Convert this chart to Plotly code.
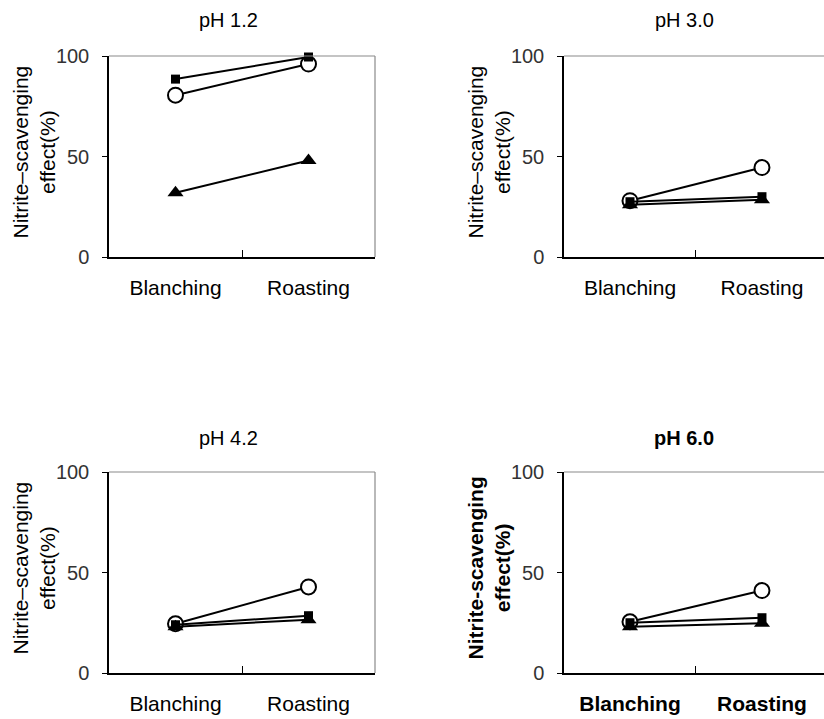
import plotly.graph_objects as go

categories = ["Blanching", "Roasting"]
panel_titles = ["pH 1.2", "pH 3.0", "pH 4.2", "pH 6.0"]
y_ticks = [0, 50, 100]

# series values per panel (pH 1.2, 3.0, 4.2, 6.0)
circle_vals = [[80.5, 96.0], [28.0, 44.5], [24.5, 42.8], [25.5, 41.0]]
square_vals = [[88.5, 99.5], [27.5, 30.0], [24.0, 28.5], [25.0, 27.5]]
triangle_vals = [[32.0, 48.0], [26.0, 28.5], [23.0, 26.5], [23.0, 24.8]]

W, H = 824, 719
FONT = "Liberation Sans, Arial, sans-serif"

# plot-area pixel boxes: left, right, top, bottom
boxes = [
    (109, 375, 56, 257),
    (564, 824, 56, 257),
    (109, 375, 472, 673),
    (564, 824, 472, 673),
]
xranges = [[-0.5, 1.5], [-0.5, 1.47], [-0.5, 1.5], [-0.5, 1.47]]
bold = [False, False, False, True]
ytitles = ["Nitrite\u2013scavenging<br>effect(%)", "Nitrite\u2013scavenging<br>effect(%)",
           "Nitrite\u2013scavenging<br>effect(%)", "Nitrite-scavenging<br>effect(%)"]

fig = go.Figure()
layout = dict(
    width=W, height=H, margin=dict(l=0, r=0, t=0, b=0, autoexpand=False),
    paper_bgcolor="white", plot_bgcolor="white", showlegend=False,
    font=dict(family=FONT, color="black"),
)
annotations = []
shapes = []

for i in range(4):
    sfx = "" if i == 0 else str(i + 1)
    xa, ya = "x" + sfx, "y" + sfx
    l, r, t, b = boxes[i]
    wt = "bold" if bold[i] else "normal"
    layout["xaxis" + sfx] = dict(
        domain=[l / W, r / W], range=xranges[i], anchor=ya, automargin=False,
        tickvals=[0, 1], ticktext=categories, ticks="", showgrid=False, zeroline=False,
        showline=True, linecolor="black", linewidth=1.5,
        tickfont=dict(size=21, color="black", family=FONT, weight=wt),
        ticklabelstandoff=11,
        minor=dict(tickmode="array", tickvals=[0.5], ticks="inside", ticklen=7,
                   tickcolor="black", tickwidth=1, showgrid=False),
    )
    layout["yaxis" + sfx] = dict(
        domain=[1 - b / H, 1 - t / H], range=[0, 100], anchor=xa, automargin=False,
        tickvals=y_ticks, ticks="outside", ticklen=5, tickcolor="black", tickwidth=1,
        showgrid=False, zeroline=False, showline=True, linecolor="black", linewidth=1.5,
        tickfont=dict(size=20, color="#333333", family=FONT),
        ticklabelstandoff=9,
    )
    # y-axis title as rotated annotation
    annotations.append(dict(
        text=ytitles[i], xref="paper", yref=ya + " domain",
        x=(l - 75) / W, y=0.52, textangle=-90,
        showarrow=False, xanchor="center", yanchor="middle",
        font=dict(size=21, color="black", family=FONT, weight=wt),
    ))
    # grey top border (and right border where visible)
    shapes.append(dict(type="line", xref=xa + " domain", yref=ya + " domain",
                       x0=0, x1=1, y0=1, y1=1, line=dict(color="#8a8a8a", width=1.2)))
    if r < W:
        shapes.append(dict(type="line", xref=xa + " domain", yref=ya + " domain",
                           x0=1, x1=1, y0=0, y1=1, line=dict(color="#8a8a8a", width=1.2)))
    annotations.append(dict(
        text=panel_titles[i], xref="paper", yref="paper",
        x=(228 if i in (0, 2) else 684) / W,
        y=1 - (20 if i < 2 else 438) / H,
        showarrow=False, xanchor="center", yanchor="middle",
        font=dict(size=20, color="black", family=FONT, weight=wt),
    ))

    xs = [0, 1]
    fig.add_trace(go.Scatter(
        x=xs, y=circle_vals[i], xaxis=xa, yaxis=ya, mode="lines+markers", name="circle",
        line=dict(color="black", width=2),
        marker=dict(symbol="circle", size=15, color="white", line=dict(color="black", width=2)),
        cliponaxis=False,
    ))
    fig.add_trace(go.Scatter(
        x=xs, y=triangle_vals[i], xaxis=xa, yaxis=ya, mode="lines+markers", name="triangle",
        line=dict(color="black", width=2),
        marker=dict(symbol="triangle-up", size=14, color="black"),
        cliponaxis=False,
    ))
    fig.add_trace(go.Scatter(
        x=xs, y=square_vals[i], xaxis=xa, yaxis=ya, mode="lines+markers", name="square",
        line=dict(color="black", width=2),
        marker=dict(symbol="square", size=9, color="black"),
        cliponaxis=False,
    ))

layout["annotations"] = annotations
layout["shapes"] = shapes
fig.update_layout(**layout)
fig.write_html("out.html")
